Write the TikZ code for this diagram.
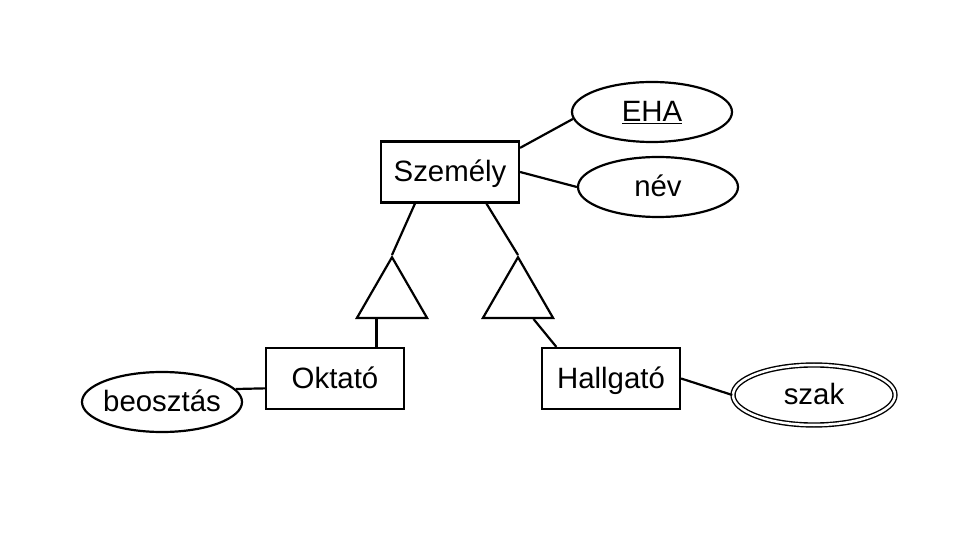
\documentclass[tikz,border=0pt]{standalone}
\usepackage{fontspec}
\setmainfont{Liberation Sans}
\usetikzlibrary{shapes,positioning,calc}

\begin{document}
\begin{tikzpicture}[x=1bp,y=-1bp,line width=2.2bp,
 every node/.style={font=\fontsize{29.5}{34}\selectfont, inner sep=0pt, text height=21bp, text depth=2bp},
 entity/.style={draw, rectangle, minimum width=138bp, minimum height=61bp},
 attr/.style={draw, ellipse, inner xsep=-6bp, minimum width=160bp, minimum height=60bp},
 multiattr/.style={draw, ellipse, double, double distance=2.5bp, line width=1.4bp, minimum width=162bp, minimum height=60bp},
 isa/.style={draw, regular polygon, regular polygon sides=3, minimum size=81bp}]

\useasboundingbox[fill=white] (0,0) rectangle (960,540);

\node[entity] (szemely) at (450,172) {Személy};
\node[entity] (oktato) at (335,378.5) {Oktató};
\node[entity] (hallgato) at (611,378.5) {Hallgató};

\node[attr] (eha) at (652,112) {\underline{EHA}};
\node[attr] (nev) at (658,187) {név};
\node[attr] (beosztas) at (162,402) {beosztás};
\node[multiattr] (szak) at (814,395) {szak};

\node[isa] (isaO) at (392,297.7) {};
\node[isa] (isaH) at (518,297.7) {};

\coordinate (baseO) at ($(isaO.corner 2)!0.29!(isaO.corner 3)$);
\coordinate (baseH) at ($(isaH.corner 2)!0.71!(isaH.corner 3)$);

\draw (szemely.19)--(eha.185);
\draw (szemely.east)--(nev.west);

\draw ($(szemely.south west)!0.25!(szemely.south east)$)--(isaO.corner 1);
\draw ($(szemely.south west)!0.76!(szemely.south east)$)--(isaH.corner 1);
\draw (baseO)--(baseO |- oktato.north);
\draw (baseH)--($(hallgato.north west)!0.11!(hallgato.north east)$);

\draw (oktato.188)--(beosztas.10);
\draw (hallgato.east)--(szak.west);
\end{tikzpicture}
\end{document}
